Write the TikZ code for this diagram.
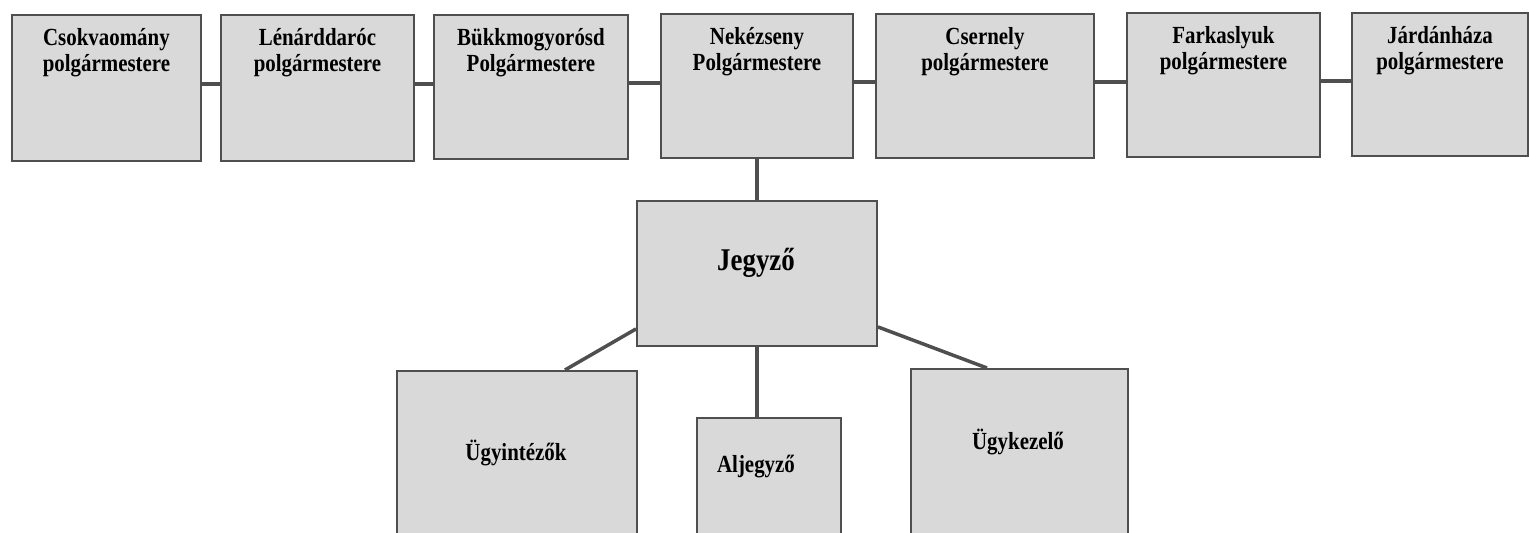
\documentclass[tikz,border=0pt]{standalone}
\usepackage{fontspec}
\setmainfont{Liberation Serif}[FakeStretch=0.85]
\usetikzlibrary{positioning}
\definecolor{boxgray}{HTML}{D9D9D9}
\definecolor{edgegray}{HTML}{4F4F4F}
\begin{document}
\begin{tikzpicture}[x=0.02cm,y=-0.02cm]
    % Styles for the offices and the links between them
    \tikzset{
        office/.style 2 args={
            rectangle,
            draw=edgegray,
            line width=1.1pt,
            fill=boxgray,
            minimum width=#1*0.02cm,
            minimum height=#2*0.02cm,
            inner sep=0pt,
            anchor=north west
        },
        officetext/.style={
            font=\bfseries\fontsize{14}{15}\selectfont,
            align=center,
            inner sep=0pt
        },
        link/.style={
            draw=edgegray,
            line width=2pt
        }
    }
    \useasboundingbox (0,0) rectangle (1529,533);
    \clip (0,0) rectangle (1529,533);
    % Mayors in a row
    \node[office={189}{146}] (csokva) at (11,14) {};
    \node[office={193}{146}] (lenard) at (220,14) {};
    \node[office={194}{144}] (bukk) at (433,14) {};
    \node[office={192}{144}] (nekez) at (660,13) {};
    \node[office={218}{144}] (cserny) at (875,13) {};
    \node[office={193}{144}] (farkas) at (1126,12) {};
    \node[office={176}{143}] (jardan) at (1351,12) {};
    \node[officetext, anchor=north, below=0.28cm of csokva.north] {Csokvaomány\\polgármestere};
    \node[officetext, anchor=north, below=0.28cm of lenard.north] {Lénárddaróc\\polgármestere};
    \node[officetext, anchor=north, below=0.28cm of bukk.north] {Bükkmogyorósd\\Polgármestere};
    \node[officetext, anchor=north, below=0.28cm of nekez.north] {Nekézseny\\Polgármestere};
    \node[officetext, anchor=north, below=0.28cm of cserny.north] {Csernely\\polgármestere};
    \node[officetext, anchor=north, below=0.28cm of farkas.north] {Farkaslyuk\\polgármestere};
    \node[officetext, anchor=north, below=0.28cm of jardan.north] {Járdánháza\\polgármestere};
    % Links between the mayors
    \foreach \a/\b in {csokva/lenard, lenard/bukk, bukk/nekez, nekez/cserny, cserny/farkas, farkas/jardan} {
        \draw[link] ([yshift=0.08cm]\a.east) -- ([yshift=0.08cm]\a.east -| \b.west);
    }
    % Notary and staff
    \node[office={240}{145}] (jegyzo) at (636,200) {};
    \node[office={240}{200}] (ugyint) at (396,370) {};
    \node[office={144}{200}] (aljegy) at (696,417) {};
    \node[office={217}{200}] (ugykez) at (910,368) {};
    \node[officetext, font=\bfseries\fontsize{18}{20}\selectfont] at (756,263) {Jegyző};
    \node[officetext] at (516,453) {Ügyintézők};
    \node[officetext] at (756,467) {Aljegyző};
    \node[officetext] at (1018,442) {Ügykezelő};
    \draw[link] (nekez.south) -- (jegyzo.north);
    \draw[link] ([yshift=0.36cm]jegyzo.south west) -- ([xshift=3.38cm]ugyint.north west);
    \draw[link] (jegyzo.south) -- (jegyzo.south |- aljegy.north);
    \draw[link] ([yshift=0.4cm]jegyzo.south east) -- ([xshift=1.54cm]ugykez.north west);
\end{tikzpicture}
\end{document}
